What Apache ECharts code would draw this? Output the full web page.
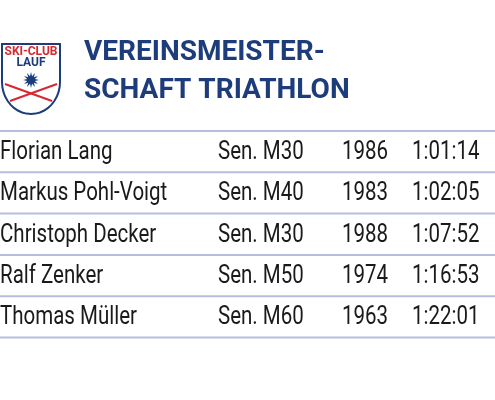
<!DOCTYPE html><html><head><meta charset="utf-8"><script src="https://cdn.jsdelivr.net/npm/echarts@6/dist/echarts.min.js"></script>
<style>html,body{margin:0;background:#fff}#c{width:495px;height:400px}</style></head><body><div id="c"></div><script>
const names=["Florian Lang","Markus Pohl-Voigt","Christoph Decker","Ralf Zenker","Thomas Müller"];
const classes=["Sen. M30","Sen. M40","Sen. M30","Sen. M50","Sen. M60"];
const years=["1986","1983","1988","1974","1963"];
const times=["1:01:14","1:02:05","1:07:52","1:16:53","1:22:01"];
const titleLines=["VEREINSMEISTER-","SCHAFT TRIATHLON"];
const F="Roboto,sans-serif";
const g=[];
const y0=131,rh=41.3;
for(let i=0;i<=names.length;i++)g.push({type:'line',shape:{x1:0,y1:y0+i*rh,x2:495,y2:y0+i*rh},style:{stroke:'#b7bde0',lineWidth:2}});
const cols=[[names,0],[classes,218],[years,342],[times,412]];
cols.forEach(([arr,x])=>arr.forEach((t,i)=>g.push({type:'text',x:x,y:y0+i*rh+rh/2+1,scaleX:0.82,style:{text:t,font:'25px '+F,fill:'#1a1a1a',textVerticalAlign:'middle'}})));
titleLines.forEach((t,i)=>g.push({type:'text',x:84,y:53+i*38,style:{text:t,font:'bold 28px '+F,fill:'#1c3c7c',textVerticalAlign:'middle'}}));
const shield=[[2,44],[60,44],[60,82]];
for(let k=1;k<=10;k++){const a=k/10*Math.PI/2;shield.push([31+29*Math.cos(a),82+32*Math.sin(a)]);}
for(let k=9;k>=0;k--){const a=k/10*Math.PI/2;shield.push([31-29*Math.cos(a),82+32*Math.sin(a)]);}
g.push({type:'polygon',shape:{points:shield},style:{fill:'#fff',stroke:'#1c3c7c',lineWidth:2}});
g.push({type:'text',x:31,y:52,style:{text:'SKI-CLUB',font:'bold 12px '+F,fill:'#d7282f',align:'center',textVerticalAlign:'middle'}});
g.push({type:'text',x:31,y:63,style:{text:'LAUF',font:'bold 12px '+F,fill:'#1c3c7c',align:'center',textVerticalAlign:'middle'}});
const star=[];
for(let k=0;k<24;k++){const a=k*Math.PI/12,r=k%2?4:8;star.push([31+r*Math.cos(a),80+r*Math.sin(a)]);}
g.push({type:'polygon',shape:{points:star},style:{fill:'#1c3c7c'}});
g.push({type:'line',shape:{x1:5,y1:84,x2:52,y2:101},style:{stroke:'#d7282f',lineWidth:2}});
g.push({type:'line',shape:{x1:57,y1:84,x2:10,y2:101},style:{stroke:'#d7282f',lineWidth:2}});
const ch=echarts.init(document.getElementById('c'));
ch.setOption({graphic:g});
</script></body></html>
